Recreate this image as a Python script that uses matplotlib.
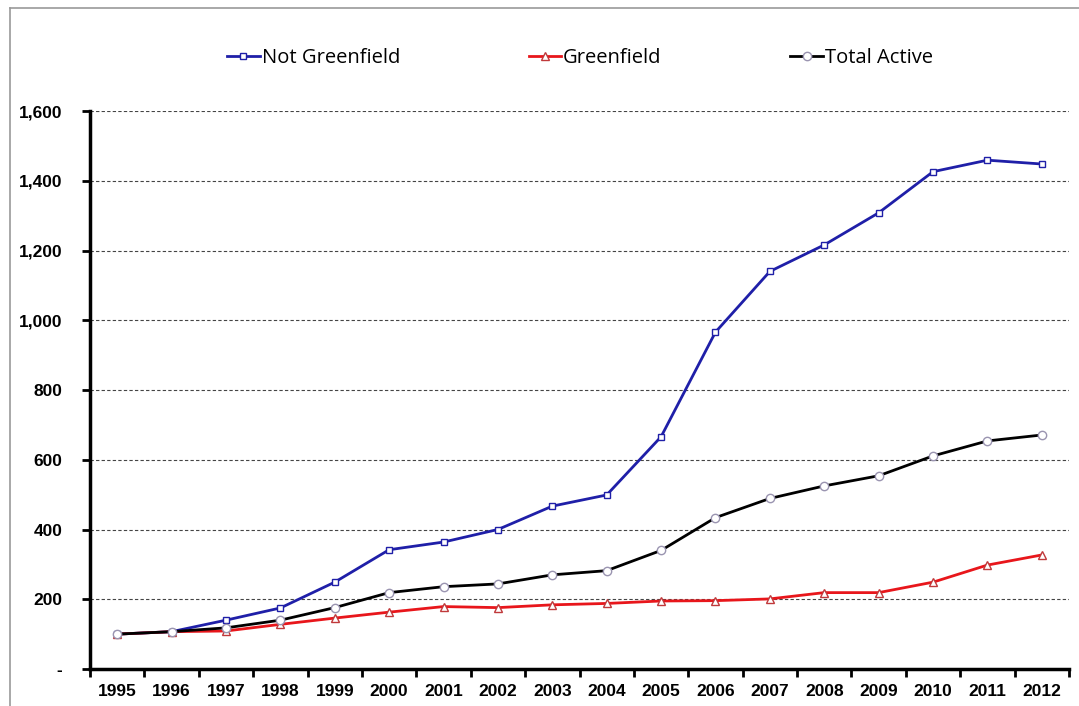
import numpy as np
import matplotlib
matplotlib.use("Agg")
import matplotlib.pyplot as plt
from matplotlib.lines import Line2D
from matplotlib.ticker import FuncFormatter

years = ["1995", "1996", "1997", "1998", "1999", "2000", "2001", "2002", "2003",
         "2004", "2005", "2006", "2007", "2008", "2009", "2010", "2011", "2012"]
not_greenfield = [100, 107, 140, 175, 249, 342, 364, 400, 467, 499, 666, 966,
                  1140, 1216, 1308, 1426, 1459, 1448]
greenfield = [100, 107, 109, 128, 146, 163, 179, 176, 184, 188, 195, 196,
              201, 219, 219, 249, 298, 327]
total_active = [100, 107, 118, 140, 176, 219, 236, 244, 270, 282, 340, 434,
                489, 525, 554, 611, 654, 671]

W, H = 1079, 706
fig = plt.figure(figsize=(W / 100, H / 100), dpi=100)
ax = fig.add_axes([90 / W, (H - 669) / H, 979 / W, (669 - 111) / H])

x = np.arange(len(years))
ax.plot(x, not_greenfield, color="#1f1fa8", lw=2.0, marker="s", ms=4.5,
        mfc="white", mec="#1f1fa8", mew=1.0, label="Not Greenfield", zorder=3)
ax.plot(x, greenfield, color="#e8161b", lw=2.0, marker="^", ms=5.5,
        mfc="white", mec="#c0393b", mew=1.0, label="Greenfield", zorder=3)
ax.plot(x, total_active, color="black", lw=2.0, marker="o", ms=6,
        mfc="white", mec="#9a94b0", mew=1.0, label="Total Active", zorder=3)

ax.set_xlim(-0.5, len(years) - 0.5)
ax.set_ylim(0, 1600)

# ticks on category boundaries, labels in the middle
ax.set_xticks(np.arange(-0.5, len(years), 1.0))
ax.set_xticklabels([])
ax.set_xticks(x, minor=True)
ax.set_xticklabels(years, minor=True, fontsize=12.5, fontweight="bold",
                   fontfamily="Liberation Sans")
ax.tick_params(axis="x", which="major", length=6, width=2, direction="out")
ax.tick_params(axis="x", which="minor", length=0, pad=11)

ax.set_yticks(np.arange(0, 1601, 200))
ax.yaxis.set_major_formatter(FuncFormatter(lambda v, p: "-" if v == 0 else f"{int(v):,}"))
ax.tick_params(axis="y", length=6, width=2, direction="out", pad=14)
for lab in ax.get_yticklabels():
    lab.set_fontsize(12.5)
    lab.set_fontweight("bold")
    lab.set_fontfamily("Liberation Sans")

ax.grid(axis="y", linestyle=(0, (3, 2)), color="#444444", lw=0.8)
ax.set_axisbelow(True)

for s in ["top", "right"]:
    ax.spines[s].set_visible(False)
for s in ["left", "bottom"]:
    ax.spines[s].set_linewidth(2.5)

leg = fig.legend(loc="center", bbox_to_anchor=(580 / W, 1 - 58 / H), ncol=3,
                 frameon=False, handlelength=1.6, handletextpad=0.1,
                 columnspacing=6.4, prop={"family": "Open Sans", "size": 14.5})

# light grey frame around the picture (top and left edges)
fig.add_artist(Line2D([10 / W, 1.0], [1 - 8 / H, 1 - 8 / H], color="#999999", lw=1.2))
fig.add_artist(Line2D([10 / W, 10 / W], [0, 1 - 8 / H], color="#999999", lw=1.2))

fig.savefig("out.png", dpi=100)
